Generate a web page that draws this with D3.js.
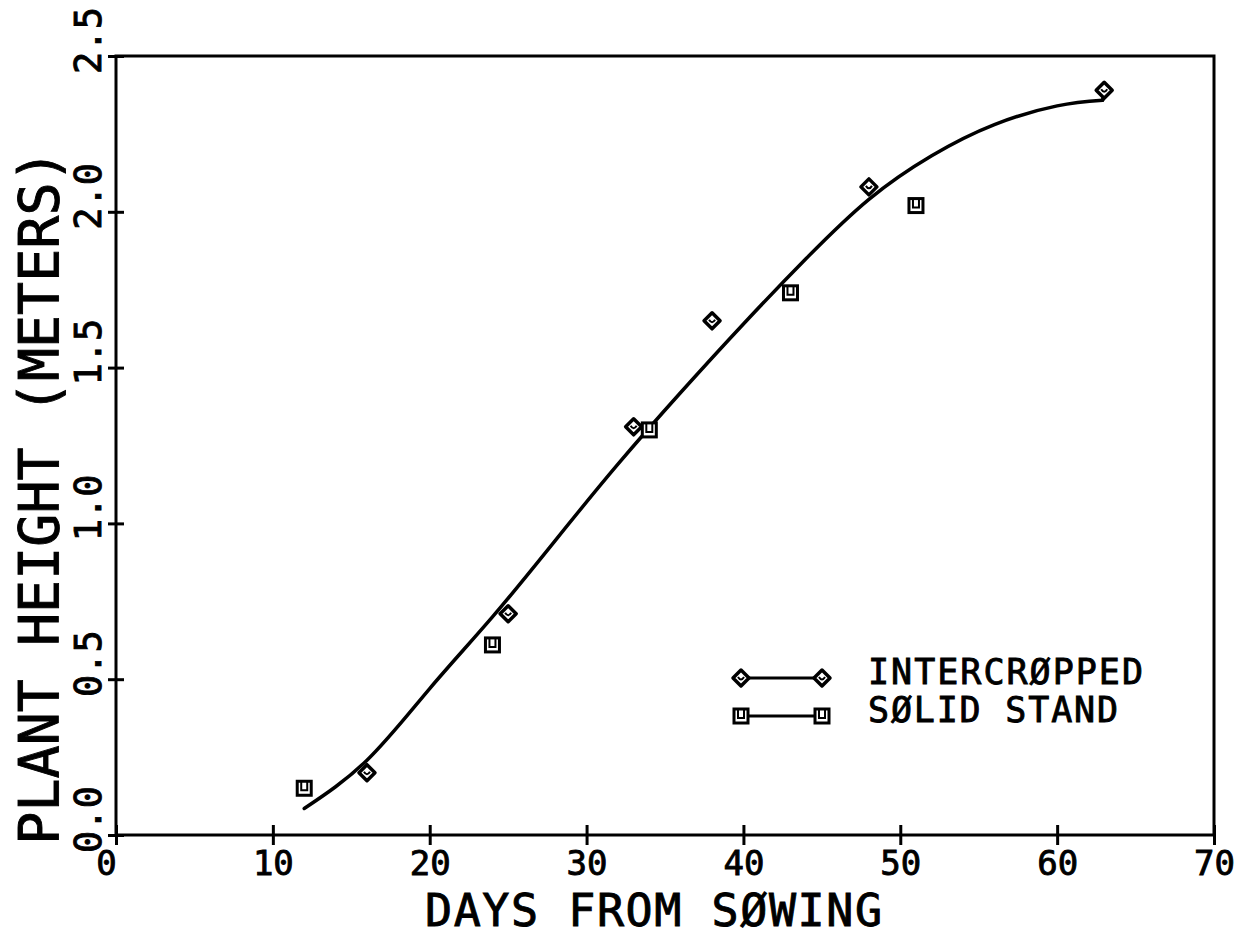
<!DOCTYPE html>
<html>
<head>
<meta charset="utf-8">
<script src="https://cdn.jsdelivr.net/npm/d3@7"></script>
<style>
  html, body { margin: 0; padding: 0; background: #fff; }
  svg { display: block; }
  text { font-family: "DejaVu Sans Mono", "Liberation Mono", monospace; fill: #000; stroke: #000; stroke-width: 0.9px; }
</style>
</head>
<body>
<svg id="chart" width="1258" height="937"></svg>
<script>
// Plant height vs. days from sowing
const xTicks = [0, 10, 20, 30, 40, 50, 60, 70];
const yTicks = [0.0, 0.5, 1.0, 1.5, 2.0, 2.5];

// Intercropped observations (days, metres)
const interDays = [16, 25, 33, 38, 48, 63];
const interHeight = [0.20, 0.71, 1.31, 1.65, 2.08, 2.39];

// Solid stand observations (days, metres)
const solidDays = [12, 24, 34, 43, 51];
const solidHeight = [0.15, 0.61, 1.30, 1.74, 2.02];

// Fitted growth curve
const fitDays = [12, 16, 20, 24, 28, 32, 36, 40, 44, 48, 52, 56, 60, 62.9];
const fitHeight = [0.085, 0.24, 0.47, 0.70, 0.945, 1.19, 1.42, 1.64, 1.85, 2.04, 2.18, 2.28, 2.34, 2.358];

const legendLabels = ["INTERCRØPPED", "SØLID STAND"];

const svg = d3.select("#chart");
const plotL = 116, plotR = 1214, plotT = 56, plotB = 835;

const x = d3.scaleLinear().domain([0, 70]).range([plotL, plotR]);
const y = d3.scaleLinear().domain([0, 2.5]).range([plotB, plotT]);

// frame
svg.append("rect")
  .attr("x", plotL).attr("y", plotT)
  .attr("width", plotR - plotL).attr("height", plotB - plotT)
  .attr("fill", "none").attr("stroke", "#000").attr("stroke-width", 3);

// bottom axis with cross ticks
const gx = svg.append("g")
  .attr("transform", `translate(0,${plotB})`)
  .call(d3.axisBottom(x).tickValues(xTicks).tickFormat(d3.format("d")).tickSize(10));
gx.select(".domain").remove();
gx.selectAll(".tick line").attr("y1", -10).attr("y2", 10).attr("stroke", "#000").attr("stroke-width", 3);
gx.selectAll(".tick text")
  .attr("y", 0).attr("dy", 0)
  .attr("transform", "translate(0,40)")
  .attr("dx", d => d === 0 ? -10 : 0)
  .style("font-size", "34px")
  .style("font-family", "DejaVu Sans Mono");

// left axis with cross ticks and rotated labels
const gy = svg.append("g")
  .attr("transform", `translate(${plotL},0)`)
  .call(d3.axisLeft(y).tickValues(yTicks).tickFormat(d3.format(".1f")).tickSize(8));
gy.select(".domain").remove();
gy.selectAll(".tick line").attr("x1", -8).attr("x2", 8).attr("stroke", "#000").attr("stroke-width", 3);
gy.selectAll(".tick text")
  .attr("x", 0).attr("dy", 0)
  .attr("text-anchor", "middle")
  .attr("transform", "translate(-15,-16) rotate(-90)")
  .style("font-size", "37px")
  .style("font-family", "DejaVu Sans Mono");

// axis titles
svg.append("text")
  .attr("x", 425).attr("y", 926)
  .attr("textLength", 457)
  .attr("lengthAdjust", "spacing")
  .style("font-size", "45px")
  .text("DAYS FROM SØWING");

svg.append("text")
  .attr("transform", `translate(58,497) rotate(-90)`)
  .attr("text-anchor", "middle")
  .style("font-size", "55px")
  .text("PLANT HEIGHT (METERS)");

// fitted curve, then the short closing stroke to the last intercropped point
const fit = fitDays.map((d, i) => [d, fitHeight[i]]);
const line = d3.line().x(d => x(d[0])).y(d => y(d[1]));
svg.append("path")
  .datum(fit)
  .attr("fill", "none")
  .attr("stroke", "#000")
  .attr("stroke-width", 3.5)
  .attr("stroke-linejoin", "round")
  .attr("stroke-linecap", "round")
  .attr("d", line.curve(d3.curveNatural));
const lastI = interDays.length - 1;
svg.append("path")
  .datum([fit[fit.length - 1], [interDays[lastI], interHeight[lastI]]])
  .attr("fill", "none")
  .attr("stroke", "#000")
  .attr("stroke-width", 3.5)
  .attr("stroke-linecap", "round")
  .attr("d", d3.line().x(d => x(d[0])).y(d => y(d[1])));

// marker drawers
function diamond(g, cx, cy) {
  const r = 8;
  const m = g.append("g").attr("transform", `translate(${cx},${cy})`);
  m.append("path")
    .attr("d", `M0,${-r}L${r},0L0,${r}L${-r},0Z`)
    .attr("fill", "#fff").attr("stroke", "#000").attr("stroke-width", 3.5).attr("stroke-linejoin", "round");
  m.append("path")
    .attr("d", "M-3,-1 Q0,4 3,-1")
    .attr("fill", "none").attr("stroke", "#000").attr("stroke-width", 2);
}
function square(g, cx, cy) {
  const h = 7;
  const m = g.append("g").attr("transform", `translate(${cx},${cy})`);
  m.append("rect")
    .attr("x", -h).attr("y", -h).attr("width", 2 * h).attr("height", 2 * h)
    .attr("fill", "#fff").attr("stroke", "#000").attr("stroke-width", 3);
  m.append("path")
    .attr("d", "M-3,-7 V2 H3 V-7")
    .attr("fill", "none").attr("stroke", "#000").attr("stroke-width", 2);
}

const marks = svg.append("g");
interDays.forEach((d, i) => diamond(marks, x(d), y(interHeight[i])));
solidDays.forEach((d, i) => square(marks, x(d), y(solidHeight[i])));

// legend
const legend = svg.append("g");
const legRows = [678, 716];
const legWidths = [275, 250];
const legX0 = 741, legX1 = 822;
legRows.forEach((ly, i) => {
  legend.append("line")
    .attr("x1", legX0).attr("x2", legX1).attr("y1", ly).attr("y2", ly)
    .attr("stroke", "#000").attr("stroke-width", 3);
  if (i === 0) { diamond(legend, legX0, ly); diamond(legend, legX1, ly); }
  else { square(legend, legX0, ly); square(legend, legX1, ly); }
  legend.append("text")
    .attr("x", 868).attr("y", ly + 6)
    .attr("textLength", legWidths[i])
    .attr("lengthAdjust", "spacing")
    .style("font-size", "35px")
    .text(legendLabels[i]);
});
</script>
</body>
</html>
